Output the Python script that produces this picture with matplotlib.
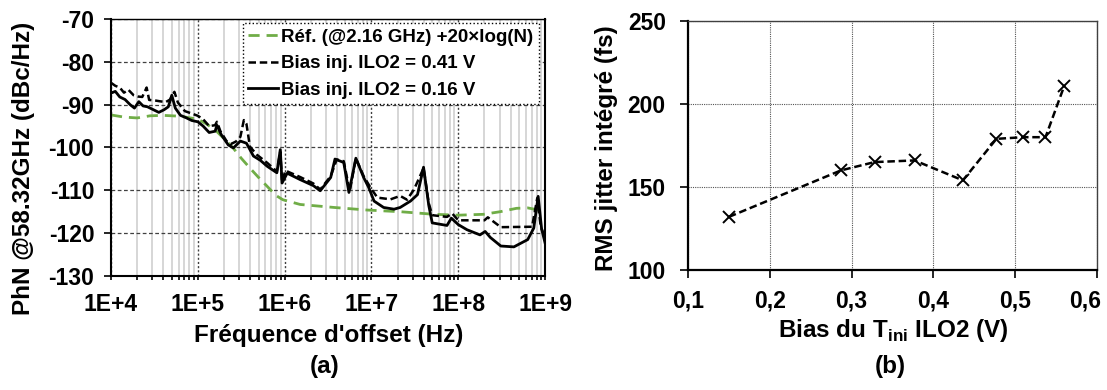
import math
import matplotlib
matplotlib.use('Agg')
import matplotlib.pyplot as plt
import matplotlib.transforms as mtransforms
from matplotlib.ticker import FixedLocator, FuncFormatter, LogLocator, NullFormatter

plt.rcParams['font.family'] = ['Liberation Sans', 'DejaVu Sans']
plt.rcParams['font.weight'] = 'bold'
plt.rcParams['axes.unicode_minus'] = False
plt.rcParams['mathtext.fontset'] = 'custom'
plt.rcParams['mathtext.rm'] = 'Liberation Sans:bold'
plt.rcParams['mathtext.bf'] = 'Liberation Sans:bold'

# (a) phase noise vs offset frequency
ref_f = [1.0e4, 1.41e4, 2.0e4, 2.82e4, 3.98e4, 6.31e4, 1.0e5, 1.26e5, 1.66e5, 2.09e5,
         2.57e5, 3.16e5, 3.98e5, 5.01e5, 6.31e5, 7.94e5, 9.55e5, 1.51e6, 3.72e6, 8.91e6,
         2.19e7, 5.25e7, 1.0e8, 1.95e8, 3.02e8, 4.68e8, 6.31e8, 7.94e8, 1.0e9]
ref_phn = [-92.4, -92.9, -93.1, -92.6, -92.5, -92.7, -93.4, -94.5, -96.3, -98.3,
           -100.2, -102.5, -104.8, -107.0, -109.1, -111.2, -112.2, -113.3, -114.0, -114.6,
           -115.0, -115.6, -115.8, -115.6, -115.0, -114.2, -114.1, -114.5, -115.0]

f_041 = [1.0e4, 1.12e4, 1.26e4, 1.41e4, 1.58e4, 1.82e4, 2.04e4, 2.29e4, 2.57e4, 2.75e4,
         3.16e4, 3.63e4, 4.27e4, 4.79e4, 5.37e4, 5.89e4, 7.08e4, 8.32e4, 1.0e5, 1.15e5,
         1.35e5, 1.58e5, 1.66e5, 1.82e5, 2.14e5, 2.40e5, 2.75e5, 3.09e5, 3.39e5, 3.63e5,
         3.98e5, 4.79e5, 6.31e5, 8.13e5, 8.91e5, 9.33e5, 1.02e6, 1.51e6, 2.14e6, 2.57e6,
         3.39e6, 3.98e6, 4.79e6, 5.62e6, 6.61e6, 8.13e6, 9.77e6, 1.17e7, 1.66e7, 2.14e7,
         2.57e7, 3.09e7, 3.55e7, 3.98e7, 4.57e7, 5.01e7, 7.41e7, 8.51e7, 1.0e8, 2.0e8,
         2.19e8, 3.09e8, 7.08e8, 8.13e8, 8.91e8, 1.0e9]
phn_041 = [-84.9, -85.6, -86.0, -87.2, -86.5, -87.8, -88.1, -88.2, -86.0, -88.9,
           -89.0, -89.2, -89.4, -88.8, -87.0, -89.5, -91.5, -92.0, -92.6, -93.4,
           -95.0, -94.8, -94.0, -96.2, -98.5, -99.2, -98.6, -97.5, -93.6, -94.5,
           -99.8, -101.7, -103.6, -105.6, -101.0, -108.0, -105.4, -106.9, -108.4, -109.8,
           -106.7, -102.8, -103.2, -110.2, -102.5, -106.7, -109.4, -111.7, -112.1, -111.3,
           -112.2, -109.8, -107.1, -104.8, -113.0, -115.8, -116.2, -115.4, -117.0, -117.0,
           -116.3, -118.6, -118.5, -111.8, -118.5, -121.0]

f_016 = [1.0e4, 1.12e4, 1.26e4, 1.45e4, 1.66e4, 1.86e4, 2.09e4, 2.34e4, 2.63e4, 3.09e4,
         3.55e4, 4.07e4, 4.57e4, 5.01e4, 5.50e4, 6.31e4, 7.24e4, 8.51e4, 1.0e5, 1.15e5,
         1.35e5, 1.58e5, 1.66e5, 1.86e5, 2.24e5, 2.57e5, 3.09e5, 3.63e5, 4.37e5, 5.25e5,
         6.31e5, 8.13e5, 8.91e5, 9.33e5, 1.07e6, 1.51e6, 2.14e6, 2.57e6, 3.39e6, 3.80e6,
         4.79e6, 5.50e6, 6.61e6, 8.13e6, 9.33e6, 1.07e7, 1.38e7, 1.82e7, 2.14e7, 2.82e7,
         3.39e7, 3.98e7, 4.57e7, 5.01e7, 7.41e7, 8.32e7, 1.0e8, 1.26e8, 1.78e8, 2.04e8,
         2.34e8, 3.09e8, 4.37e8, 6.31e8, 7.41e8, 8.32e8, 9.12e8, 1.0e9]
phn_016 = [-87.3, -86.9, -88.2, -88.8, -90.0, -90.8, -89.3, -90.3, -90.5, -91.2,
           -91.8, -91.2, -90.5, -87.8, -90.8, -92.5, -93.0, -93.7, -94.0, -95.0,
           -96.5, -96.2, -94.8, -97.0, -99.4, -100.1, -98.5, -99.0, -102.0, -103.0,
           -104.4, -105.9, -100.5, -108.3, -106.0, -107.5, -108.9, -110.1, -107.0, -102.7,
           -103.5, -110.5, -102.5, -107.0, -109.4, -112.5, -114.0, -114.4, -114.0, -112.5,
           -111.0, -104.6, -113.5, -117.6, -118.2, -116.5, -118.0, -119.2, -120.4, -119.6,
           -121.0, -123.0, -123.2, -121.5, -118.8, -111.4, -119.0, -122.3]

# (b) integrated RMS jitter vs bias
bias_v = [0.15, 0.287, 0.328, 0.377, 0.436, 0.477, 0.51, 0.537, 0.56]
jitter_fs = [132, 160, 165, 166, 154, 179, 180, 180, 211]

fig = plt.figure(figsize=(11.07, 3.9), dpi=100)
ax1 = fig.add_axes([0.1003, 0.2923, 0.3921, 0.659])
ax2 = fig.add_axes([0.6215, 0.3077, 0.3695, 0.6385])

# ---- left plot
ax1.set_xscale('log')
ax1.set_xlim(1e4, 1e9)
ax1.set_ylim(-130, -70)
ax1.xaxis.set_major_locator(LogLocator(base=10, numticks=10))
ax1.xaxis.set_minor_locator(LogLocator(base=10, subs=range(2, 10), numticks=20))
ax1.xaxis.set_minor_formatter(NullFormatter())
ax1.xaxis.set_major_formatter(FuncFormatter(lambda v, p: '1E+%d' % round(math.log10(v))))
ax1.yaxis.set_major_locator(FixedLocator(range(-130, -69, 10)))

ax1.grid(True, which='minor', axis='x', color='#d0d0d0', lw=1.2, ls='-')
ax1.grid(True, which='major', axis='x', color='#404040', lw=1.0, ls=(0, (1.5, 1.5)))
ax1.grid(True, which='major', axis='y', color='#404040', lw=0.9, ls=(0, (3, 2)))
ax1.set_axisbelow(True)

ax1.plot(ref_f, ref_phn, color='#70AD47', lw=2.0, dashes=(4, 2.5),
         label='Réf. (@2.16 GHz) +20×log(N)')
ax1.plot(f_041, phn_041, color='black', lw=1.8, dashes=(3, 1.5),
         label='Bias inj. ILO2 = 0.41 V')
ax1.plot(f_016, phn_016, color='black', lw=2.0, ls='-',
         label='Bias inj. ILO2 = 0.16 V')

leg = ax1.legend(loc='upper right', bbox_to_anchor=(0.986, 0.984), borderaxespad=0,
                 fontsize=13.5, handlelength=1.6, handletextpad=0.15, labelspacing=0.5,
                 borderpad=0.3, fancybox=False, framealpha=1, edgecolor='black')
leg.get_frame().set_linestyle(':')
leg.get_frame().set_linewidth(1.0)

ax1.tick_params(axis='y', which='major', direction='out', length=5, width=1.2, pad=7, labelsize=16.5)
ax1.tick_params(axis='x', which='both', direction='out', length=3, width=1.2, pad=9, labelsize=16.5)
for s in ax1.spines.values():
    s.set_linewidth(1.5)
    s.set_color('black')
ax1.spines['top'].set_linewidth(1.0)

ax1.set_ylabel('PhN @58.32GHz (dBc/Hz)', fontsize=17.5, fontweight='bold')
ax1.set_xlabel("Fréquence d'offset (Hz)", fontsize=17.5, fontweight='bold')
ax1.yaxis.set_label_coords(-0.175, 0.42)
ax1.xaxis.set_label_coords(0.501, -0.185)

# ---- right plot
ax2.set_xlim(0.1, 0.6)
ax2.set_ylim(100, 250)
ax2.xaxis.set_major_locator(FixedLocator([0.1, 0.2, 0.3, 0.4, 0.5, 0.6]))
ax2.yaxis.set_major_locator(FixedLocator([100, 150, 200, 250]))
ax2.xaxis.set_major_formatter(FuncFormatter(lambda v, p: ('%.1f' % v).replace('.', ',')))
ax2.grid(True, color='#555555', lw=0.8, ls=(0, (1, 1)))
ax2.set_axisbelow(True)

ax2.plot(bias_v, jitter_fs, color='black', lw=1.8, dashes=(3, 1.5),
         marker='x', ms=9, mew=1.4)

ax2.tick_params(axis='y', direction='out', length=6, width=1.2, pad=10, labelsize=16.5)
ax2.tick_params(axis='x', direction='out', length=6, width=1.2, pad=8, labelsize=16.5)
for s in ax2.spines.values():
    s.set_linewidth(1.0)
    s.set_color('#404040')
ax2.spines['left'].set_linewidth(1.6)
ax2.spines['left'].set_color('black')
ax2.spines['bottom'].set_linewidth(1.6)
ax2.spines['bottom'].set_color('black')

ax2.set_ylabel('RMS jitter intégré (fs)', fontsize=17.5, fontweight='bold')
ax2.set_xlabel(r'Bias du T$_{\mathrm{ini}}$ ILO2 (V)', fontsize=17.5, fontweight='bold')
ax2.yaxis.set_label_coords(-0.171, 0.49)
ax2.xaxis.set_label_coords(0.501, -0.19)

# keep the last x label inside the figure, as in the original
last_lbl = ax2.get_xticklabels()[-1]
last_lbl.set_transform(last_lbl.get_transform() +
                       mtransforms.ScaledTranslation(-12 / 100, 0, fig.dpi_scale_trans))

fig.text(0.293, 1 - 366 / 390, '(a)', ha='center', va='center', fontsize=17.5, fontweight='bold')
fig.text(0.804, 1 - 366 / 390, '(b)', ha='center', va='center', fontsize=17.5, fontweight='bold')

fig.savefig('out.png', dpi=100, facecolor='white')
